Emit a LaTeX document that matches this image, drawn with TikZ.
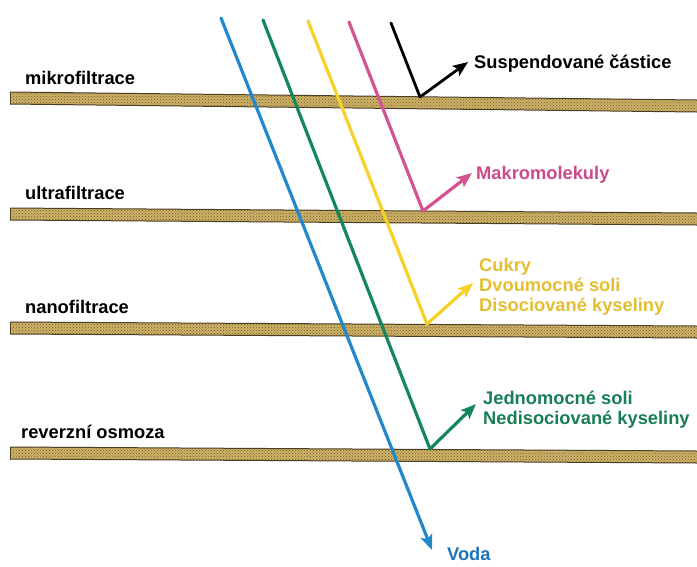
\documentclass[tikz,border=0pt]{standalone}
\usepackage{fontspec}
\setmainfont{Liberation Sans}
\usetikzlibrary{arrows.meta,patterns}
\definecolor{cblue}{RGB}{34,136,204}
\definecolor{cgreen}{RGB}{22,134,92}
\definecolor{cyellow}{RGB}{246,210,40}
\definecolor{cpink}{RGB}{212,84,146}
\definecolor{tblue}{RGB}{30,116,186}
\definecolor{tgreen}{RGB}{24,126,86}
\definecolor{tyellow}{RGB}{228,190,48}
\definecolor{tpink}{RGB}{204,74,140}
\definecolor{barbase}{RGB}{206,178,104}
\definecolor{bardot}{RGB}{112,88,40}
\definecolor{baredge}{RGB}{76,62,36}
\tikzset{
  lab/.style={anchor=base west, inner sep=0pt, font=\bfseries\fontsize{18.3}{22}\selectfont},
  ray/.style={line width=3.2pt, line cap=round, line join=round},
  arr/.style={-{Stealth[length=15pt,width=12pt,inset=3pt]}},
  barfill/.style={fill=barbase, postaction={pattern=crosshatch dots, pattern color=bardot}},
  baredgeline/.style={draw=baredge, line width=1pt}
}
\begin{document}
\begin{tikzpicture}[x=1pt,y=-1pt]
\useasboundingbox (0,0) rectangle (697,566);
% membranes
\foreach \a/\b in {92/100, 208/213, 322/326, 447/451}{
  \path[barfill] (10,\a) -- (697,\b) -- (697,\b+12) -- (10,\a+12) -- cycle;
  \draw[baredgeline] (10,\a) -- (697,\b);
  \draw[baredgeline] (10,\a+12) -- (697,\b+12);
  \draw[baredge, line width=0.6pt] (10,\a) -- (10,\a+12);
}
% membrane labels
\node[lab] (mf) at (25,84) {mikrofiltrace};
\node[lab] (uf) at (25,199) {ultrafiltrace};
\node[lab] (nf) at (25,313) {nanofiltrace};
\node[lab] (ro) at (21,438) {reverzní osmoza};
% ray coordinates
\coordinate (kTop) at (391,23);  \coordinate (kB) at (420,97);  \coordinate (kTip) at (468,62);
\coordinate (pTop) at (349,22);  \coordinate (pB) at (423,211); \coordinate (pTip) at (472,173);
\coordinate (yTop) at (308,21);  \coordinate (yB) at (427,324); \coordinate (yTip) at (473,283);
\coordinate (gTop) at (263,20);  \coordinate (gB) at (430,449); \coordinate (gTip) at (476,404);
\coordinate (bTop) at (221,18);  \coordinate (bTip) at (432,550);
% rays
\draw[ray, arr, cblue] (bTop) -- (bTip);
\draw[ray, arr, cgreen] (gTop) -- (gB) -- (gTip);
\draw[ray, arr, cyellow] (yTop) -- (yB) -- (yTip);
\draw[ray, arr, cpink] (pTop) -- (pB) -- (pTip);
\draw[ray, arr, black, line width=2.8pt] (kTop) -- (kB) -- (kTip);
% right labels
\node[lab, black] (ls) at (474,68) {Suspendované částice};
\node[lab, tpink] (lm) at (476,179) {Makromolekuly};
\node[lab, tyellow] (ly1) at (479,271) {Cukry};
\node[lab, tyellow] (ly2) at (479,291) {Dvoumocné soli};
\node[lab, tyellow] (ly3) at (479,311) {Disociované kyseliny};
\node[lab, tgreen] (lg1) at (483,404) {Jednomocné soli};
\node[lab, tgreen] (lg2) at (483,424) {Nedisociované kyseliny};
\node[lab, tblue] (lv) at (447,560) {Voda};
\end{tikzpicture}
\end{document}
